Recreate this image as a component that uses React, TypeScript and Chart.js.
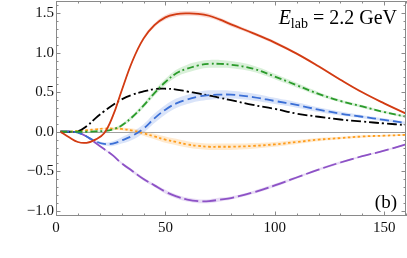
import React, { useEffect, useRef } from "react";
import { Chart, registerables } from "chart.js";

Chart.register(...registerables);

const angles = [2, 6, 10, 14, 18, 22, 26, 30, 35, 40, 45, 50, 55, 60, 65, 70, 75, 80, 90, 100, 110, 120, 130, 140, 150, 160];

const redVals = [0, -0.07, -0.13, -0.14, -0.1, -0.02, 0.2, 0.52, 0.9, 1.18, 1.35, 1.45, 1.49, 1.5, 1.495, 1.47, 1.42, 1.36, 1.25, 1.13, 0.99, 0.83, 0.66, 0.5, 0.36, 0.23];
const greenVals = [0, 0, 0, 0, 0.005, 0.01, 0.03, 0.08, 0.19, 0.33, 0.49, 0.63, 0.74, 0.8, 0.84, 0.86, 0.86, 0.85, 0.8, 0.7, 0.59, 0.48, 0.39, 0.32, 0.25, 0.19];
const blueVals = [0, 0, -0.01, -0.06, -0.12, -0.155, -0.15, -0.11, -0.05, 0.04, 0.17, 0.28, 0.36, 0.41, 0.445, 0.465, 0.47, 0.47, 0.44, 0.39, 0.34, 0.28, 0.23, 0.19, 0.15, 0.11];
const blackVals = [0, 0, 0.005, 0.07, 0.17, 0.26, 0.34, 0.41, 0.47, 0.51, 0.54, 0.545, 0.535, 0.51, 0.485, 0.46, 0.43, 0.4, 0.34, 0.29, 0.23, 0.19, 0.155, 0.13, 0.105, 0.085];
const orangeVals = [0, 0, 0.01, 0.02, 0.03, 0.04, 0.04, 0.035, 0.015, -0.02, -0.06, -0.1, -0.13, -0.16, -0.18, -0.19, -0.19, -0.19, -0.18, -0.16, -0.13, -0.1, -0.08, -0.06, -0.05, -0.04];
const purpleVals = [0, 0, -0.01, -0.06, -0.14, -0.22, -0.3, -0.4, -0.5, -0.6, -0.68, -0.76, -0.82, -0.86, -0.88, -0.88, -0.86, -0.84, -0.77, -0.68, -0.58, -0.48, -0.39, -0.31, -0.24, -0.16];

const redErr = [0, 0, 0.005, 0.01, 0.01, 0.01, 0.015, 0.02, 0.02, 0.025, 0.025, 0.03, 0.03, 0.03, 0.03, 0.03, 0.025, 0.025, 0.02, 0.02, 0.015, 0.015, 0.01, 0.01, 0.01, 0.01];
const greenErr = [0, 0, 0, 0.005, 0.01, 0.01, 0.015, 0.02, 0.025, 0.03, 0.035, 0.04, 0.045, 0.05, 0.05, 0.05, 0.05, 0.045, 0.04, 0.035, 0.03, 0.025, 0.02, 0.02, 0.015, 0.015];
const blueErr = [0, 0, 0.005, 0.01, 0.015, 0.02, 0.03, 0.04, 0.05, 0.055, 0.06, 0.06, 0.06, 0.06, 0.06, 0.06, 0.055, 0.05, 0.045, 0.04, 0.035, 0.03, 0.025, 0.02, 0.02, 0.015];
const orangeErr = [0, 0, 0.005, 0.005, 0.01, 0.01, 0.015, 0.02, 0.025, 0.03, 0.035, 0.04, 0.04, 0.04, 0.04, 0.04, 0.04, 0.04, 0.035, 0.03, 0.025, 0.02, 0.015, 0.015, 0.01, 0.01];
const purpleErr = [0, 0, 0, 0.005, 0.01, 0.01, 0.015, 0.015, 0.02, 0.02, 0.02, 0.025, 0.025, 0.025, 0.025, 0.025, 0.025, 0.02, 0.02, 0.02, 0.015, 0.015, 0.015, 0.01, 0.01, 0.01];

const xMajorTicks = [0, 50, 100, 150];
const xMinorTicks = [10, 20, 30, 40, 60, 70, 80, 90, 110, 120, 130, 140, 160];
const yMajorTicks = [-1.0, -0.5, 0.0, 0.5, 1.0, 1.5];
const yMinorTicks = [-0.9, -0.8, -0.7, -0.6, -0.4, -0.3, -0.2, -0.1, 0.1, 0.2, 0.3, 0.4, 0.6, 0.7, 0.8, 0.9, 1.1, 1.2, 1.3, 1.4, 1.6];

const SERIF = "'Liberation Serif', 'DejaVu Serif', serif";

function pts(vals: number[], err?: number[], sign = 0) {
  return angles.map((a, i) => ({ x: a, y: vals[i] + (err ? sign * err[i] : 0) }));
}

function band(vals: number[], err: number[], color: string) {
  return [
    { data: pts(vals, err, 1), borderWidth: 0, pointRadius: 0, fill: false, order: 5, tension: 0.4 },
    { data: pts(vals, err, -1), borderWidth: 0, pointRadius: 0, fill: "-1", backgroundColor: color, order: 5, tension: 0.4 },
  ];
}

function line(vals: number[], color: string, dash: number[]) {
  return { data: pts(vals), borderColor: color, borderWidth: 1.8, borderDash: dash, pointRadius: 0, fill: false, order: 0, tension: 0.4 };
}

const framePlugin = {
  id: "frame",
  beforeDatasetsDraw(chart: any) {
    const { ctx, chartArea, scales } = chart;
    const y0 = Math.round(scales.y.getPixelForValue(0)) + 0.5;
    ctx.save();
    ctx.strokeStyle = "#a0a0a0";
    ctx.lineWidth = 1;
    ctx.beginPath();
    ctx.moveTo(chartArea.left, y0);
    ctx.lineTo(chartArea.right, y0);
    ctx.stroke();
    ctx.restore();
  },
  afterDraw(chart: any) {
    const { ctx, chartArea, scales } = chart;
    const { left, right, top, bottom } = chartArea;
    ctx.save();
    ctx.strokeStyle = "#8a8a8a";
    ctx.lineWidth = 1;
    ctx.beginPath();
    ctx.moveTo(left + 0.5, top);
    ctx.lineTo(left + 0.5, bottom);
    ctx.moveTo(right - 0.5, top);
    ctx.lineTo(right - 0.5, bottom);
    ctx.moveTo(left, top + 0.5);
    ctx.lineTo(right, top + 0.5);
    ctx.moveTo(left, bottom - 0.5);
    ctx.lineTo(right, bottom - 0.5);
    const xt = (v: number, len: number) => {
      const p = Math.round(scales.x.getPixelForValue(v)) + 0.5;
      ctx.moveTo(p, bottom);
      ctx.lineTo(p, bottom - len);
      ctx.moveTo(p, top);
      ctx.lineTo(p, top + len);
    };
    const yt = (v: number, len: number) => {
      const p = Math.round(scales.y.getPixelForValue(v)) + 0.5;
      ctx.moveTo(left, p);
      ctx.lineTo(left + len, p);
      ctx.moveTo(right, p);
      ctx.lineTo(right - len, p);
    };
    xMajorTicks.forEach((v) => xt(v, 4.5));
    xMinorTicks.forEach((v) => xt(v, 2.5));
    yMajorTicks.forEach((v) => yt(v, 4.5));
    yMinorTicks.forEach((v) => yt(v, 2.5));
    ctx.stroke();

    // annotation
    ctx.fillStyle = "#000";
    ctx.textBaseline = "alphabetic";
    const endX = 397;
    const baseY = 24;
    ctx.font = `italic 20px ${SERIF}`;
    const wE = ctx.measureText("E").width;
    ctx.font = `14px ${SERIF}`;
    const wLab = ctx.measureText("lab").width;
    ctx.font = `20px ${SERIF}`;
    const rest = " = 2.2 GeV";
    const wRest = ctx.measureText(rest).width;
    let x0 = endX - (wE + wLab + wRest);
    ctx.font = `italic 20px ${SERIF}`;
    ctx.fillText("E", x0, baseY);
    x0 += wE;
    ctx.font = `14px ${SERIF}`;
    ctx.fillText("lab", x0, baseY + 4);
    x0 += wLab;
    ctx.font = `20px ${SERIF}`;
    ctx.fillText(rest, x0, baseY);

    ctx.font = `19px ${SERIF}`;
    ctx.textAlign = "right";
    ctx.fillText("(b)", 397, 208);
    ctx.restore();
  },
};

function fmtY(v: number) {
  const s = Math.abs(v).toFixed(1);
  return v < -1e-9 ? "\u2212" + s : s;
}

export default function App() {
  const ref = useRef<HTMLCanvasElement | null>(null);
  useEffect(() => {
    if (!ref.current) return;
    const chart = new Chart(ref.current, {
      type: "line",
      data: {
        datasets: [
          line(redVals, "#d23b12", []),
          line(greenVals, "#2b9b2b", [7, 3, 2, 3]),
          line(blueVals, "#3b6fd6", [9, 4]),
          line(blackVals, "#000000", [10, 3, 2, 3]),
          line(orangeVals, "#ff9d1c", [2.5, 2.5]),
          line(purpleVals, "#8d52c6", [14, 4]),
          ...band(redVals, redErr, "rgba(240,130,110,0.3)"),
          ...band(greenVals, greenErr, "rgba(130,205,130,0.3)"),
          ...band(blueVals, blueErr, "rgba(140,170,235,0.32)"),
          ...band(orangeVals, orangeErr, "rgba(255,200,130,0.38)"),
          ...band(purpleVals, purpleErr, "rgba(185,145,225,0.32)"),
        ] as any,
      },
      options: {
        animation: false,
        responsive: false,
        maintainAspectRatio: false,
        layout: { padding: { top: 1, right: 1, left: 0, bottom: 0 } },
        plugins: { legend: { display: false }, tooltip: { enabled: false } },
        scales: {
          x: {
            type: "linear",
            min: 0,
            max: 160,
            grid: { display: false, drawTicks: false },
            border: { display: false },
            afterBuildTicks: (s: any) => {
              s.ticks = xMajorTicks.map((v) => ({ value: v }));
            },
            afterFit: (s: any) => {
              s.height = 42;
              s.paddingLeft = 0;
              s.paddingRight = 0;
            },
            ticks: {
              padding: 3,
              maxRotation: 0,
              autoSkip: false,
              color: "#111",
              font: { family: SERIF, size: 15 },
              callback: (v: any) => String(v),
            },
          },
          y: {
            type: "linear",
            min: -1.068,
            max: 1.657,
            grid: { display: false, drawTicks: false },
            border: { display: false },
            afterBuildTicks: (s: any) => {
              s.ticks = yMajorTicks.map((v) => ({ value: v }));
            },
            afterFit: (s: any) => {
              s.width = 56;
              s.paddingTop = 0;
              s.paddingBottom = 0;
            },
            ticks: {
              padding: 2,
              autoSkip: false,
              color: "#111",
              font: { family: SERIF, size: 15 },
              callback: (v: any) => fmtY(Number(v)),
            },
          },
        },
      } as any,
      plugins: [framePlugin],
    });
    return () => chart.destroy();
  }, []);
  return (
    <div style={{ position: "fixed", left: 0, top: 0, width: 407, height: 258, background: "#fff" }}>
      <canvas ref={ref} width={407} height={258} style={{ width: 407, height: 258, display: "block" }} />
    </div>
  );
}
